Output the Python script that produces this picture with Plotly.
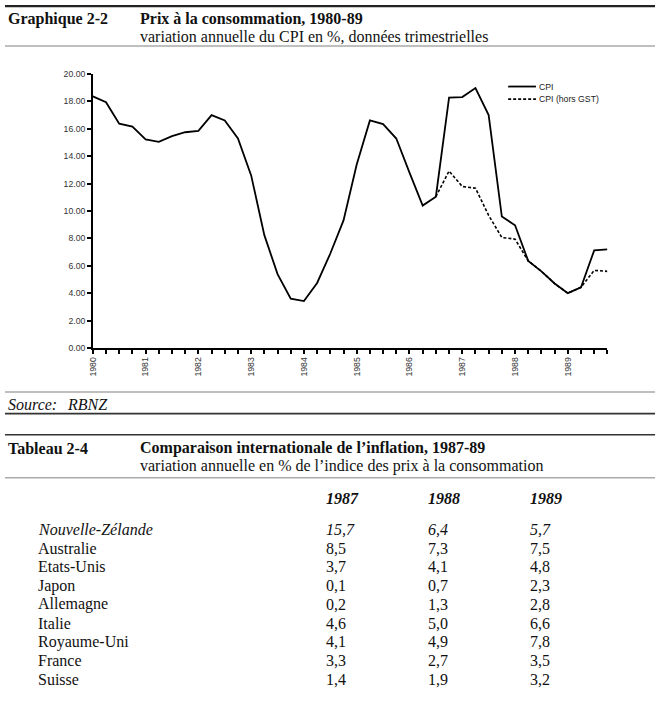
import plotly.graph_objects as go

# ---------------- data ----------------
years = [1980, 1981, 1982, 1983, 1984, 1985, 1986, 1987, 1988, 1989]
quarters = [1, 2, 3, 4]

cpi = [18.37, 17.94, 16.37, 16.16,
       15.22, 15.05, 15.46, 15.75,
       15.85, 17.00, 16.61, 15.29,
       12.60, 8.24, 5.40, 3.60,
       3.43, 4.75, 6.90, 9.32,
       13.40, 16.61, 16.35, 15.29,
       12.80, 10.40, 11.05, 18.27,
       18.32, 18.97, 17.00, 9.60,
       8.96, 6.36, 5.60, 4.71,
       4.01, 4.44, 7.13, 7.20]

cpi_hors_gst = [None] * 26 + [11.05, 12.92,
                              11.79, 11.67, 9.68, 8.07,
                              7.95, 6.36, 5.60, 4.71,
                              4.01, 4.44, 5.67, 5.60]

series_names = ["CPI", "CPI (hors GST)"]
y_ticks = [0, 2, 4, 6, 8, 10, 12, 14, 16, 18, 20]

countries = ["Nouvelle-Zélande", "Australie", "Etats-Unis", "Japon", "Allemagne",
             "Italie", "Royaume-Uni", "France", "Suisse"]
table_years = ["1987", "1988", "1989"]
infl_1987 = [15.7, 8.5, 3.7, 0.1, 0.2, 4.6, 4.1, 3.3, 1.4]
infl_1988 = [6.4, 7.3, 4.1, 0.7, 1.3, 5.0, 4.9, 2.7, 1.9]
infl_1989 = [5.7, 7.5, 4.8, 2.3, 2.8, 6.6, 7.8, 3.5, 3.2]

# ---------------- geometry helpers ----------------
W, H = 659, 705


def px(x):
    return x / W


def py(y):
    return 1 - y / H


xq = [y + (q - 1) / 4 for y in years for q in quarters]
tick_text = [str(y) if q == 1 else "" for y in years for q in quarters]

SANS = "Liberation Sans, Arial, sans-serif"
SERIF = "Liberation Serif, Times New Roman, serif"

solid = dict(color="black", width=1.8)
dashed = dict(color="black", width=1.6, dash="3px,2px")

fig = go.Figure()
fig.add_trace(go.Scatter(x=xq, y=cpi, mode="lines", name=series_names[0],
                         line=solid, showlegend=False, hoverinfo="skip"))
fig.add_trace(go.Scatter(x=xq, y=cpi_hors_gst, mode="lines", name=series_names[1],
                         line=dashed, showlegend=False, hoverinfo="skip"))

x0 = min(xq)
x1 = max(xq)

fig.update_layout(
    width=W, height=H,
    margin=dict(l=0, r=0, t=0, b=0),
    paper_bgcolor="white", plot_bgcolor="white",
    showlegend=False,
    xaxis=dict(domain=[px(88.5), px(607)], range=[x0, x1],
               tickmode="array", tickvals=xq, ticktext=tick_text,
               tickangle=-90, ticks="outside", ticklen=4, tickwidth=1.5,
               tickcolor="black", showline=True, linecolor="black", linewidth=1.5,
               showgrid=False, zeroline=False,
               tickfont=dict(family=SANS, size=8.7, color="#333"),
               anchor="y"),
    yaxis=dict(domain=[py(348), py(70)], range=[0, 20],
               tickmode="array", tickvals=y_ticks,
               ticktext=[f"{v:.2f}" for v in y_ticks],
               ticks="outside", ticklen=4, tickwidth=1.5, tickcolor="black",
               showline=True, linecolor="black", linewidth=1.5,
               showgrid=False, zeroline=False,
               tickfont=dict(family=SANS, size=8.7, color="#333"),
               anchor="x"),
    xaxis2=dict(overlaying="x", matches="x", range=[x0, x1], anchor="y2",
                tickmode="array", tickvals=xq, ticks="inside", ticklen=3,
                tickwidth=1.5, tickcolor="black", showticklabels=False,
                showline=False, showgrid=False, zeroline=False,
                domain=[px(88.5), px(607)]),
    yaxis2=dict(overlaying="y", range=[0, 20], anchor="x2", side="left",
                tickmode="array", tickvals=y_ticks, ticks="inside", ticklen=3,
                tickwidth=1.5, tickcolor="black", showticklabels=False,
                showline=False, showgrid=False, zeroline=False,
                domain=[py(348), py(70)]),
)

# ---------------- page rules ----------------
def hline(y, color, width):
    fig.add_shape(type="line", xref="paper", yref="paper",
                  x0=0, x1=px(655), y0=py(y), y1=py(y),
                  line=dict(color=color, width=width))


hline(1.2, "#222", 2.2)
hline(41.5, "#aaa", 1.5)
hline(392.5, "#aaa", 1.5)
hline(414.5, "#333", 1.6)
hline(436.0, "#333", 1.6)
hline(479.5, "#aaa", 1.5)


def text(x, y, s, size=16, family=SERIF, anchor="left", color="#111"):
    fig.add_annotation(x=px(x), y=py(y), xref="paper", yref="paper",
                       text=s, showarrow=False, xanchor=anchor, yanchor="middle",
                       borderpad=0, font=dict(family=family, size=size, color=color))


# ---------------- legend (manual) ----------------
for yy, style, name in [(82.7, solid, series_names[0]), (95.5, dashed, series_names[1])]:
    fig.add_shape(type="line", xref="paper", yref="paper",
                  x0=px(507), x1=px(535), y0=py(yy), y1=py(yy), line=style)
    text(537, yy, name, size=8.7, family=SANS, color="#222")

# chart header
text(2, 14, "<b>Graphique 2-2</b>")
text(135, 14, "<b>Prix à la consommation, 1980-89</b>")
text(135, 32, "variation annuelle du CPI en %, données trimestrielles")

# source
text(2, 405, "<i>Source:</i>")
text(61, 405, "<i>RBNZ</i>")

# table header
text(2, 449.5, "<b>Tableau 2-4</b>")
text(135, 449.5, "<b>Comparaison internationale de l’inflation, 1987-89</b>")
text(135, 467.5, "variation annuelle en % de l’indice des prix à la consommation")

col_x = [322, 425, 528]
for cx, yr in zip(col_x, table_years):
    text(cx, 501, f"<b><i>{yr}</i></b>")


def fmt(v):
    return f"{v:.1f}".replace(".", ",")


row_y0 = 532
row_dy = 19
for i, name in enumerate(countries):
    y = row_y0 + i * row_dy
    vals = [infl_1987[i], infl_1988[i], infl_1989[i]]
    if i == 0:
        text(32, y, f"<i>{name}</i>")
        for cx, v in zip(col_x, vals):
            text(cx, y, f"<i>{fmt(v)}</i>")
    else:
        text(32, y, name)
        for cx, v in zip(col_x, vals):
            text(cx, y, fmt(v))

fig.write_html("out.html",
               config={"displayModeBar": False},
               post_script="document.body.style.margin='0';"
                           "document.body.style.overflow='hidden';")
